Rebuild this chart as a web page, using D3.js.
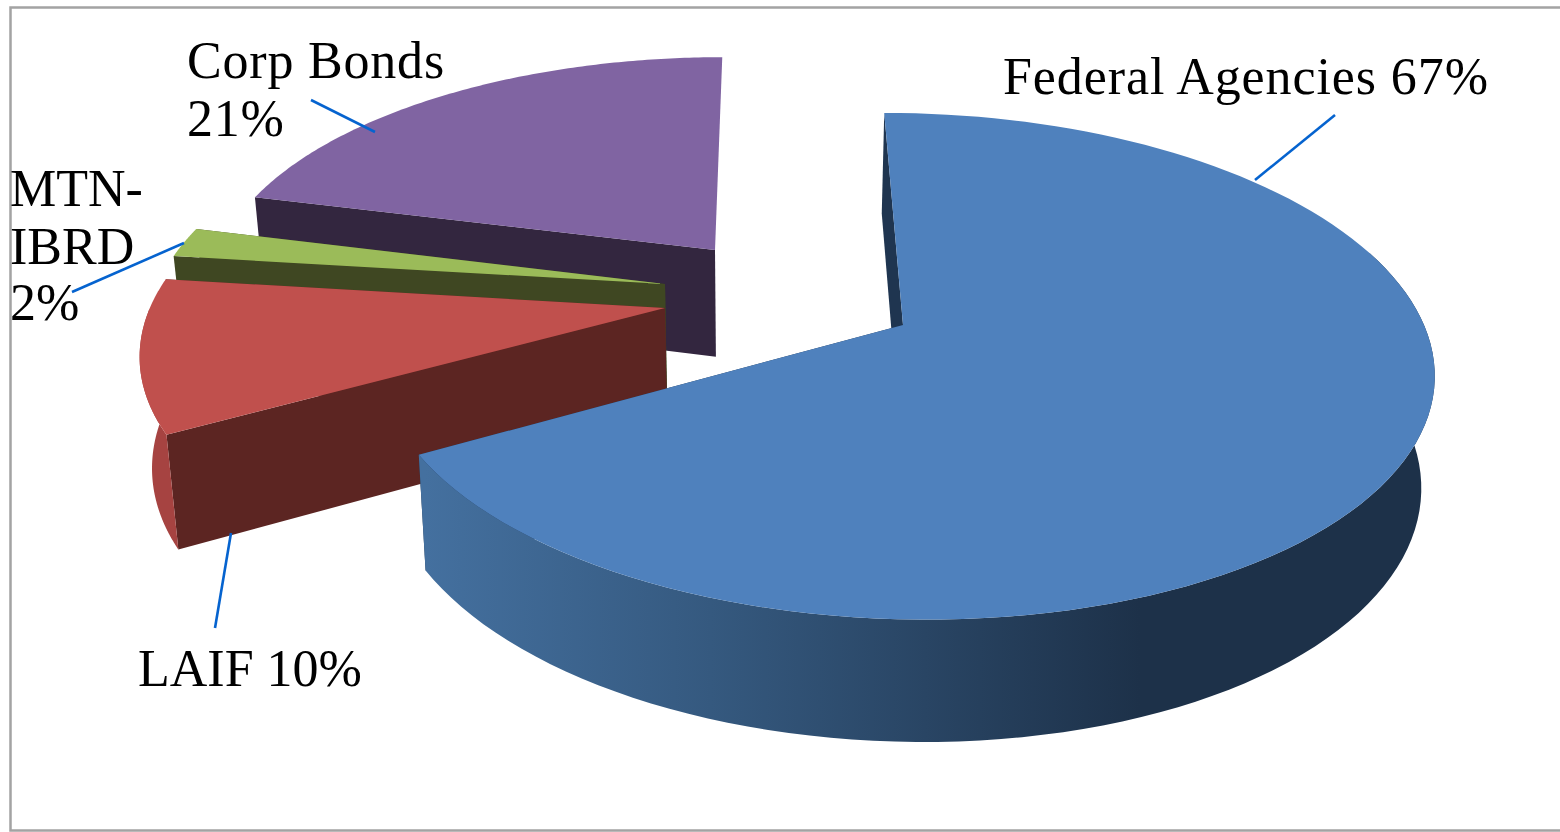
<!DOCTYPE html>
<html><head><meta charset="utf-8">
<script src="https://cdn.jsdelivr.net/npm/d3@7"></script>
<style>html,body{margin:0;background:#fff}svg{display:block}
text{font-family:"Liberation Serif",serif;font-size:52px;fill:#000}</style>
</head><body><div id="c"></div>
<script>
// data
const categories = ["Federal Agencies","LAIF","MTN-IBRD","Corp Bonds"];
const values = [67,10,2,21];
const labelLines = [["Federal Agencies 67%"],["LAIF 10%"],["MTN-","IBRD","2%"],["Corp Bonds","21%"]];
// styles
const topColors = ["#4f81bd","#c0504d","#9bbb59","#8064a2"];
const sideColors = ["#1f3550","#5c2522","#3f4722","#33263f"];
const rimColors = ["url(#rim)","#a64341","#7f9a49","#6a5386"];
// layout
const W=1560,H=832, cx=903, cy=325, rx=521, ry=246.6, k=0.163, sh=20, wall=110, wallX=0.98, wallXc=760;
const apexes=[[0,0],[-238,-17],[-238,-41],[-188,-75]];
const showEndWall=[true,true,true,false];
const labelPos=[[[1003,94]],[[138,686]],[[10,206],[10,264],[10,320]],[[187,78],[187,136]]];
const labelSpacing=[0.9,0,0,0.8];
const leaders=[[[1335,115],[1255,180]],[[215,628],[231,533]],[[72,292],[184,243]],[[311,100],[375,132]]];
const startDeg=-0.2;

const svg=d3.select("#c").append("svg").attr("width",W).attr("height",H);
const defs=svg.append("defs");
const g=defs.append("linearGradient").attr("id","rim").attr("gradientUnits","userSpaceOnUse")
  .attr("x1",425).attr("x2",1140).attr("y1",0).attr("y2",0);
g.append("stop").attr("offset",0).attr("stop-color","#44709f");
g.append("stop").attr("offset",0.4).attr("stop-color","#35597f");
g.append("stop").attr("offset",1).attr("stop-color","#1d3149");

svg.append("path").attr("d",`M${W},7.5H10.5V830.5H${W}`).attr("fill","none").attr("stroke","#a3a3a3").attr("stroke-width",2.5);

const rad0=startDeg*Math.PI/180;
const pie=d3.pie().sort(null).value(d=>d).startAngle(rad0).endAngle(rad0+2*Math.PI);
const arcs=pie(values);
const persp=Y=>1/(1-k*Y);
const project=([X,Y])=>{const p=persp(Y);return [cx+(rx*X+sh*Y)*p,cy+ry*Y*p,p];};
const unproject=([x,y])=>{const Y=y/(ry+k*y);return [(x/persp(Y)-sh*Y)/rx,Y];};
const lower=([x,y,p])=>[wallXc+(x-wallXc)*wallX,y+wall*Math.pow(p,0.6)];
const line=d3.line().curve(d3.curveLinear);
const poly=pts=>line(pts)+"Z";
const rimFrom=Math.PI*0.39, rimTo=Math.PI*1.5; // only the part of the rim that faces the viewer

[3,2,1,0].forEach(i=>{
  const a=arcs[i], o=unproject(apexes[i]);
  const scale=d3.scaleLinear().domain([0,1]).range([a.startAngle,a.endAngle]);
  const samples=d3.range(0,1.00001,1/120).map(scale);
  const at=an=>project([o[0]+Math.sin(an),o[1]-Math.cos(an)]);
  const rim=samples.map(at);
  const ap=project(o);
  const G=svg.append("g").attr("class","slice").attr("data-name",categories[i]);
  const rad=e=>G.append("path").attr("d",poly([ap,e,lower(e),lower(ap)])).attr("fill",sideColors[i]);
  if(showEndWall[i]) rad(rim[rim.length-1]);
  rad(rim[0]);
  const front=samples.filter(an=>an>=rimFrom&&an<=rimTo).map(at);
  if(front.length>1) G.append("path").attr("d",poly(front.concat(front.map(lower).reverse()))).attr("fill",rimColors[i]);
  G.append("path").attr("d",poly([ap].concat(rim))).attr("fill",topColors[i]);
});

leaders.forEach(l=>svg.append("path").attr("d",line(l)).attr("stroke","#0563cf").attr("stroke-width",2.6).attr("fill","none"));
labelLines.forEach((ls,i)=>ls.forEach((t,j)=>svg.append("text").attr("x",labelPos[i][j][0]).attr("y",labelPos[i][j][1]).style("letter-spacing",labelSpacing[i]+"px").text(t)));
</script></body></html>
